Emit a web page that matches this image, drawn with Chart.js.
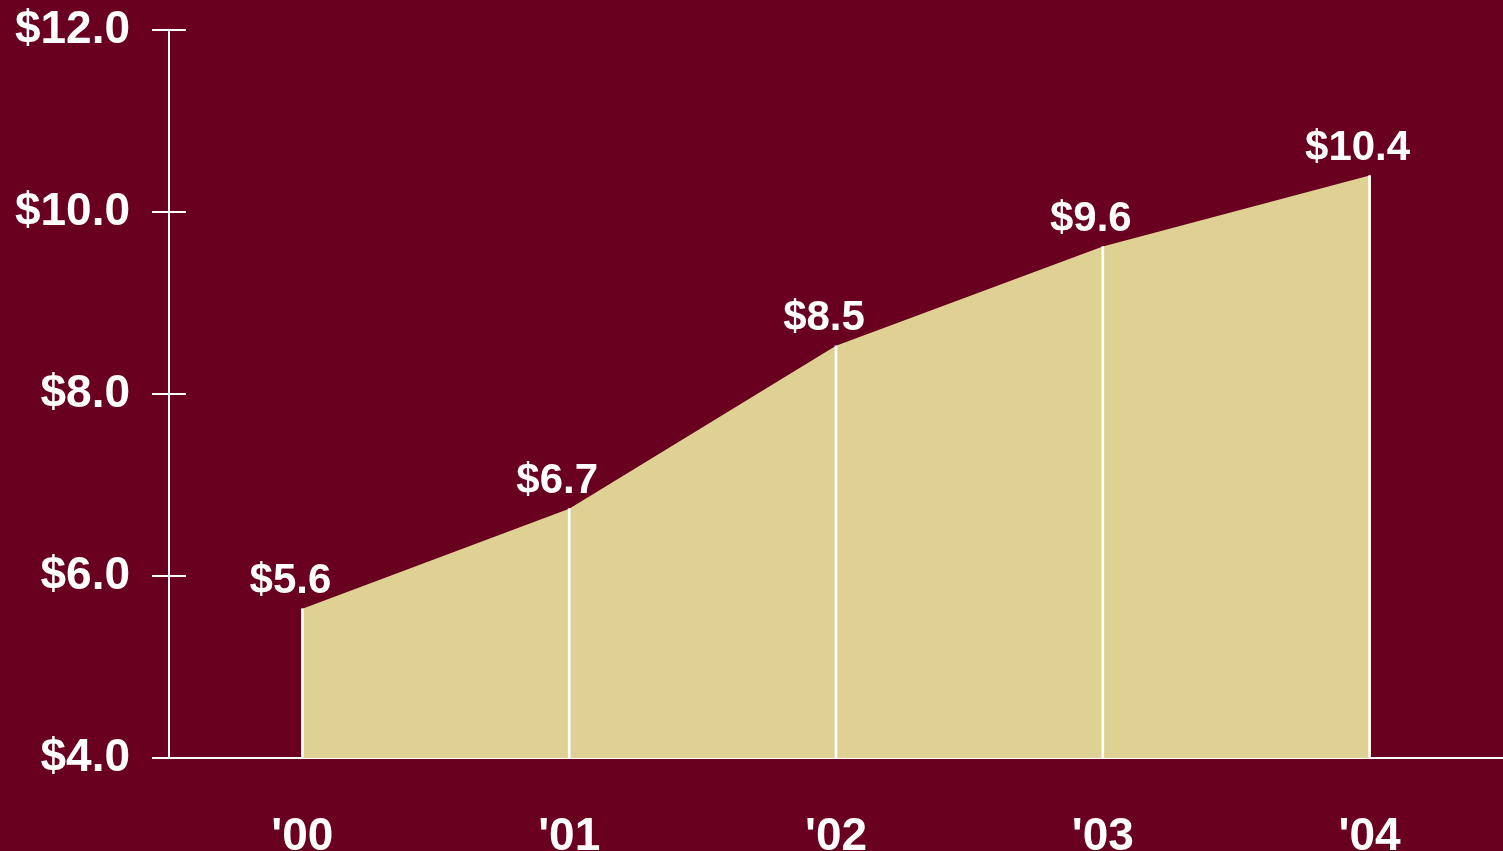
<!DOCTYPE html>
<html>
<head>
<meta charset="utf-8">
<script src="https://cdn.jsdelivr.net/npm/chart.js@4.4.1/dist/chart.umd.min.js"></script>
<style>
  html, body { margin: 0; padding: 0; background: #690020; overflow: hidden; }
  canvas { display: block; }
</style>
</head>
<body>
<canvas id="areaChart" width="1503" height="851"></canvas>
<script>
var years = ["'00", "'01", "'02", "'03", "'04"]
var values = [5.64, 6.74, 8.53, 9.62, 10.4]
var yTicks = [4, 6, 8, 10, 12]

var white = '#ffffff'
var font = 'Liberation Sans, Arial, sans-serif'

// tick marks crossing the y axis
var crossTicks = {
  id: 'crossTicks',
  afterDraw: function(chart) {
    var ctx = chart.ctx
    var y = chart.scales.y
    var x0 = chart.chartArea.left
    ctx.save()
    ctx.strokeStyle = white
    ctx.lineWidth = 2
    yTicks.forEach(function(v) {
      var py = Math.round(y.getPixelForValue(v))
      ctx.beginPath()
      ctx.moveTo(x0 - 17, py)
      ctx.lineTo(x0 + 17, py)
      ctx.stroke()
    })
    ctx.restore()
  }
}

// value labels above each point
var pointLabels = {
  id: 'pointLabels',
  afterDatasetsDraw: function(chart) {
    var ctx = chart.ctx
    var meta = chart.getDatasetMeta(0)
    ctx.save()
    ctx.fillStyle = white
    ctx.font = 'bold 42px ' + font
    ctx.textAlign = 'center'
    ctx.textBaseline = 'alphabetic'
    meta.data.forEach(function(pt, i) {
      ctx.fillText('$' + values[i].toFixed(1), pt.x - 12, pt.y - 16)
    })
    ctx.restore()
  }
}

var ctx = document.getElementById('areaChart').getContext('2d')
var chart = new Chart(ctx, {
  data: {
    labels: years,
    datasets: [
      {
        type: 'line',
        data: values,
        backgroundColor: '#dfd194',
        borderWidth: 0,
        pointRadius: 0,
        fill: 'start',
        tension: 0,
        order: 2
      },
      {
        type: 'bar',
        data: values,
        base: 4,
        backgroundColor: white,
        barThickness: 2,
        order: 1
      }
    ]
  },
  options: {
    responsive: false,
    animation: false,
    layout: { padding: { top: 30, left: 0, right: 0, bottom: 0 } },
    plugins: {
      legend: { display: false },
      tooltip: { enabled: false }
    },
    scales: {
      x: {
        offset: true,
        grid: { display: false },
        border: { display: true, color: white, width: 2 },
        ticks: {
          color: white,
          padding: 44,
          maxRotation: 0,
          font: { family: font, size: 46, weight: 'bold' }
        },
        afterFit: function(scale) {
          scale.height = 93
          scale.paddingLeft = 0
          scale.paddingRight = 0
        }
      },
      y: {
        min: 4,
        max: 12,
        grid: { display: false },
        border: { display: true, color: white, width: 2 },
        afterBuildTicks: function(scale) {
          scale.ticks = yTicks.map(function(v) { return { value: v } })
        },
        ticks: {
          color: white,
          padding: 31,
          font: { family: font, size: 46, weight: 'bold' },
          callback: function(v) { return '$' + Number(v).toFixed(1) }
        },
        afterFit: function(scale) {
          scale.width = 169
          scale.paddingTop = 0
          scale.paddingBottom = 0
        }
      }
    }
  },
  plugins: [crossTicks, pointLabels]
})
</script>
</body>
</html>
